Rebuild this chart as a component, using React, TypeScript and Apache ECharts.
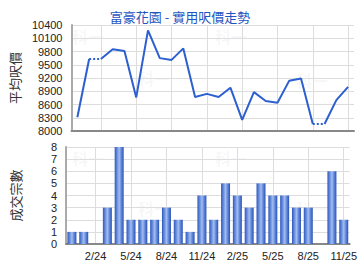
import React, { useEffect, useRef } from "react";
import * as echarts from "echarts";

const months = [
  "12/23", "1/24", "2/24", "3/24", "4/24", "5/24", "6/24", "7/24", "8/24", "9/24", "10/24", "11/24",
  "12/24", "1/25", "2/25", "3/25", "4/25", "5/25", "6/25", "7/25", "8/25", "9/25", "10/25", "11/25",
];
// average price per sq ft (months without deals carry the previous value)
const avgPrice = [
  8310, 9630, 9630, 9850, 9810, 8760, 10280, 9650, 9610, 9870, 8770, 8840,
  8770, 8980, 8250, 8880, 8680, 8640, 9140, 9190, 8160, 8160, 8700, 9000,
];
const deals = [1, 1, 0, 3, 8, 2, 2, 2, 3, 2, 1, 4, 2, 5, 4, 3, 5, 4, 4, 3, 3, 0, 6, 2];
const priceTicks = { min: 8000, max: 10400, interval: 300 };
const dealTicks = { min: 0, max: 8, interval: 1 };

const title = "富豪花園 - 實用呎價走勢";
const priceName = "平均呎價";
const dealName = "成交宗數";

function buildLineSeries() {
  const series: any[] = [];
  const n = avgPrice.length;
  let start = 0;
  const segments: [number, number][] = [];
  for (let i = 1; i < n; i++) {
    if (deals[i] === 0) {
      segments.push([start, i - 1]);
      start = i;
    }
  }
  segments.push([start, n - 1]);
  const lineColor = "#2c5fcf";
  segments.forEach(([a, b]) => {
    series.push({
      type: "line",
      xAxisIndex: 0,
      yAxisIndex: 0,
      data: avgPrice.map((v, i) => (i >= a && i <= b ? v : null)),
      symbol: "none",
      lineStyle: { color: lineColor, width: 2 },
      connectNulls: false,
      z: 3,
    });
  });
  for (let i = 1; i < n; i++) {
    if (deals[i] === 0) {
      series.push({
        type: "line",
        xAxisIndex: 0,
        yAxisIndex: 0,
        data: avgPrice.map((v, j) => (j === i - 1 || j === i ? v : null)),
        symbol: "none",
        lineStyle: { color: lineColor, width: 2, type: [2, 2] },
        z: 3,
      });
    }
  }
  return series;
}

export default function App() {
  const ref = useRef<HTMLDivElement>(null);
  useEffect(() => {
    if (!ref.current) return;
    const chart = echarts.init(ref.current, null, { renderer: "svg" });
    const font = "'Liberation Sans', Arial, sans-serif";
    const cjk = "'Noto Sans CJK TC', 'Noto Sans CJK SC', sans-serif";
    const gridColor = "#dddddd";
    const xBase = {
      type: "category",
      data: months,
      boundaryGap: true,
      axisTick: { show: false },
      axisLine: { show: true, lineStyle: { color: "#888888", width: 2 } },
      splitLine: {
        show: true,
        alignWithLabel: true,
        interval: (i: number) => i % 3 === 2,
        lineStyle: { color: gridColor, width: 1 },
      },
    };
    const yBase = {
      type: "value",
      nameLocation: "middle",
      nameGap: 44,
      nameRotate: 90,
      nameTextStyle: { fontFamily: cjk, fontSize: 13, color: "#333" },
      axisLine: { show: true, lineStyle: { color: "#aaaaaa", width: 2 } },
      axisTick: { show: false },
      axisLabel: {
        fontFamily: font,
        fontSize: 11,
        color: "#222",
        margin: 9,
        formatter: (v: number) => String(v),
      },
      splitLine: { show: true, lineStyle: { color: gridColor, width: 1 } },
    };
    const barGradient = new echarts.graphic.LinearGradient(0, 0, 1, 0, [
      { offset: 0, color: "#2d58bd" },
      { offset: 0.3, color: "#6f94e0" },
      { offset: 0.5, color: "#a3bdf0" },
      { offset: 0.75, color: "#5d84d8" },
      { offset: 1, color: "#2a52b5" },
    ]);
    const watermarkStyle = { text: "科一", fill: "rgba(0,0,0,0.05)", fontSize: 16, fontWeight: "bold", fontFamily: cjk };
    chart.setOption({
      animation: false,
      title: {
        text: title,
        left: "center",
        top: 5,
        textStyle: { fontFamily: cjk, fontSize: 13, fontWeight: "normal", color: "#1f55c0" },
      },
      graphic: [
        { type: "text", left: 72, top: 28, silent: true, style: watermarkStyle },
        { type: "text", left: 138, top: 70, silent: true, style: watermarkStyle },
        { type: "text", left: 215, top: 28, silent: true, style: watermarkStyle },
        { type: "text", left: 296, top: 72, silent: true, style: watermarkStyle },
        { type: "text", left: 72, top: 150, silent: true, style: watermarkStyle },
        { type: "text", left: 138, top: 200, silent: true, style: watermarkStyle },
        { type: "text", left: 215, top: 150, silent: true, style: watermarkStyle },
        { type: "text", left: 296, top: 200, silent: true, style: watermarkStyle },
      ],
      grid: [
        { left: 66, right: 6, top: 25, height: 106 },
        { left: 66, right: 6, top: 147, height: 97 },
      ],
      xAxis: [
        { ...xBase, gridIndex: 0, axisLabel: { show: false } },
        {
          ...xBase,
          gridIndex: 1,
          axisLabel: {
            show: true,
            interval: (i: number) => i % 3 === 2,
            fontFamily: font,
            fontSize: 11,
            color: "#222",
            margin: 6,
          },
        },
      ],
      yAxis: [
        { ...yBase, gridIndex: 0, name: priceName, ...priceTicks },
        { ...yBase, gridIndex: 1, name: dealName, ...dealTicks },
      ],
      series: [
        ...buildLineSeries(),
        {
          type: "bar",
          xAxisIndex: 1,
          yAxisIndex: 1,
          data: deals.map((v) => (v === 0 ? null : v)),
          barWidth: 9,
          itemStyle: { color: barGradient },
        },
      ],
    });
    return () => chart.dispose();
  }, []);
  return <div ref={ref} style={{ width: 360, height: 270, position: "absolute", left: 0, top: 0 }} />;
}
